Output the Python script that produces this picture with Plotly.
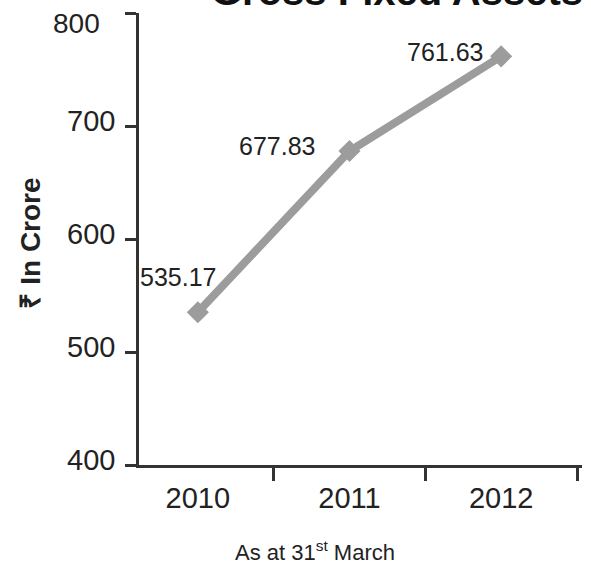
import plotly.graph_objects as go

# Gross fixed assets, Rs crore, as at 31st March
years = ["2010", "2011", "2012"]
gross_fixed_assets = [535.17, 677.83, 761.63]
y_ticks = [400, 500, 600, 700, 800]

# label offsets (px) relative to each point
label_xshift = [20, -33, -16]
label_yshift = [35, 5, 4]

FONT = "Arial, Liberation Sans, sans-serif"
INK = "#222222"
LINE_GREY = "#9c9c9c"

fig = go.Figure()
fig.add_trace(go.Scatter(
    x=years,
    y=gross_fixed_assets,
    mode="lines+markers",
    line=dict(color=LINE_GREY, width=8),
    marker=dict(symbol="diamond", size=17, color=LINE_GREY),
    cliponaxis=False,
    showlegend=False,
))

# value labels, placed on the category index of each year
for i, (val, dx, dy) in enumerate(zip(gross_fixed_assets, label_xshift, label_yshift)):
    fig.add_annotation(
        x=i, y=val, text=f"{val:.2f}", showarrow=False,
        xanchor="right", yanchor="middle", xshift=dx, yshift=dy,
        font=dict(family=FONT, size=25, color=INK),
    )

# top tick label sits a little below its tick so it stays on the canvas
fig.add_annotation(
    xref="paper", yref="y", x=-0.084, y=y_ticks[-1],
    xanchor="right", yanchor="middle", yshift=-10, showarrow=False,
    text=str(y_ticks[-1]),
    font=dict(family=FONT, size=28, color=INK),
)

# chart title (runs off the top edge)
fig.add_annotation(
    xref="paper", yref="paper", x=0.158, y=1.049,
    xanchor="left", yanchor="middle", showarrow=False,
    text="<b>Gross Fixed Assets</b>",
    font=dict(family=FONT, size=40, color="#111111"),
)

# y-axis title
fig.add_annotation(
    xref="paper", yref="paper", x=-0.246, y=0.49,
    xanchor="center", yanchor="middle", showarrow=False, textangle=-90,
    text="<b>₹ In Crore</b>",
    font=dict(family=FONT, size=28, color=INK),
)

# x-axis title
fig.add_annotation(
    xref="paper", yref="paper", x=0.397, y=-0.19,
    xanchor="center", yanchor="middle", showarrow=False,
    text="As at 31<sup>st</sup> March",
    font=dict(family=FONT, size=22, color=INK),
)

fig.update_layout(
    width=591, height=565,
    margin=dict(l=139, r=9, t=13, b=100, autoexpand=False),
    paper_bgcolor="white", plot_bgcolor="white",
    font=dict(family=FONT, color=INK),
    xaxis=dict(
        type="category", range=[-0.388, 2.533], tickson="boundaries",
        showgrid=False, zeroline=False,
        showline=True, linecolor="#333333", linewidth=2.5,
        ticks="outside", ticklen=13, tickwidth=2.5, tickcolor="#333333",
        tickfont=dict(family=FONT, size=29, color=INK),
        ticklabelstandoff=5,
    ),
    yaxis=dict(
        range=[400, 800], tickvals=y_ticks,
        ticktext=[str(v) for v in y_ticks[:-1]] + [""],
        showgrid=False, zeroline=False,
        showline=True, linecolor="#333333", linewidth=2.5,
        ticks="outside", ticklen=11, tickwidth=2.5, tickcolor="#333333",
        tickfont=dict(family=FONT, size=29, color=INK),
        ticklabelstandoff=4, ticklabelshift=-5,
    ),
)

fig.write_html("out.html")
